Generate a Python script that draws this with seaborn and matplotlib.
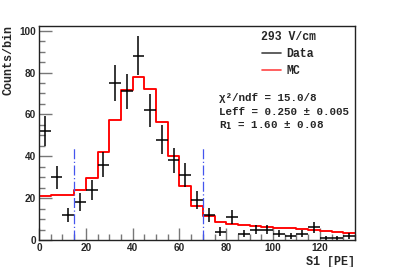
import numpy as np
import pandas as pd
import matplotlib
matplotlib.use("Agg")
import matplotlib.pyplot as plt
import seaborn as sns
from matplotlib.lines import Line2D
from matplotlib.ticker import MultipleLocator

# ---- data ----
bin_edges = list(range(0, 140, 5))  # 0..135
data_counts = [52, 30, 12, 18, 24, 36, 75, 71, 88, 62, 48, 38, 31, 19,
               12, 4, 11, 3, 5, 5, 3, 2, 3, 6, 1, 1, 2]
mc_counts = [21.0, 21.7, 21.7, 23.8, 29.8, 42.0, 57.3, 71.5, 77.7, 72.0, 56.6,
             40.0, 25.7, 16.4, 11.5, 8.8, 7.6, 7.2, 6.7, 6.2, 5.7, 5.5, 5.1,
             4.8, 4.1, 3.8, 3.3]
cut_lines = [15, 70]
cut_height = 44
field_label = "293 V/cm"
stats_lines = ["\u03c7\u00b2/ndf = 15.0/8", "Leff = 0.250 \u00b1 0.005",
               "R$_\\mathbf{1}$ = 1.60 \u00b1 0.08"]
x_ticks = [0, 20, 40, 60, 80, 100, 120]
y_ticks = [0, 20, 40, 60, 80, 100]

sns.set_theme(style="white")
plt.rcParams['font.family'] = ['Liberation Mono', 'DejaVu Sans']

edges = np.array(bin_edges, dtype=float)
centers = (edges[:-1] + edges[1:]) / 2
counts = np.array(data_counts, dtype=float)
df_mc = pd.DataFrame({"center": centers, "mc": mc_counts})

fig = plt.figure(figsize=(3.95, 2.67), dpi=100)
ax = fig.add_axes([39/395, 1 - 240/267, (355-39)/395, (240-26)/267])

sns.histplot(data=df_mc, x="center", weights="mc", bins=bin_edges,
             element="step", fill=False, color="#ff0000", linewidth=1.35, ax=ax)

ax.errorbar(centers, counts, xerr=2.5, yerr=np.sqrt(counts), fmt='none',
            ecolor='black', elinewidth=1.1, capsize=0)

for xc in cut_lines:
    ax.plot([xc, xc], [0, cut_height], color='#4455ee', lw=0.9,
            linestyle=(0, (8, 2, 1, 2)))

ax.set_xlim(0, 135)
ax.set_ylim(0, 102.25)
ax.set_xticks(x_ticks)
ax.set_yticks(y_ticks)
ax.xaxis.set_minor_locator(MultipleLocator(5))
ax.yaxis.set_minor_locator(MultipleLocator(5))
ax.tick_params(axis='both', which='both', direction='in', top=False,
               right=False, bottom=True, left=True, color='#777777', width=1.0)
ax.tick_params(axis='both', which='major', length=9, labelsize=7.2, pad=2)
ax.tick_params(axis='both', which='minor', length=4.5)
for lab in ax.get_xticklabels() + ax.get_yticklabels():
    lab.set_fontfamily('Liberation Sans')
    lab.set_fontweight('bold')

for sp in ax.spines.values():
    sp.set_color('#222222')
    sp.set_linewidth(1.0)

ax.set_xlabel("")
ax.set_ylabel("")
fig.text(355/395, 1 - 261.5/267, "S1 [PE]", ha='right', va='center',
         fontsize=8.5, fontweight='bold')
fig.text(8.5/395, 1 - 25/267, "Counts/bin", ha='center', va='top',
         rotation=90, fontsize=8.5, fontweight='bold')

handles = [Line2D([], [], color='#444444', lw=1.2),
           Line2D([], [], color='#ff4444', lw=1.2)]
leg = ax.legend(handles, ["Data", "MC"], title=field_label, frameon=False,
                loc='upper left', bbox_to_anchor=(0.6864, 1.0),
                borderaxespad=0.0,
                prop={'family': 'Liberation Mono', 'weight': 'bold', 'size': 8.3},
                title_fontproperties={'family': 'Liberation Mono',
                                      'weight': 'bold', 'size': 8.3},
                handlelength=1.7, handletextpad=0.45, labelspacing=0.45)

for i, s in enumerate(stats_lines):
    y_pix = 97.7 + 14 * i
    fig.text(219/395, 1 - y_pix/267, s, ha='left', va='center',
             fontsize=7.8, fontweight='bold')

fig.savefig("out.png", dpi=100)
